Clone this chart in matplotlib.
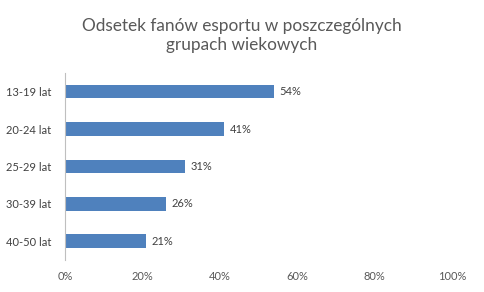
import matplotlib.pyplot as plt
import numpy as np

# data
groups = ["13-19 lat", "20-24 lat", "25-29 lat", "30-39 lat", "40-50 lat"]
shares = [54, 41, 31, 26, 21]
xticks = [0, 20, 40, 60, 80, 100]

plt.rcParams["font.family"] = ["Lato", "DejaVu Sans"]

fig = plt.figure(figsize=(4.84, 2.92), dpi=100)
ax = fig.add_axes([0.134, 0.110, 0.800, 0.640])

y = np.arange(len(groups))
ax.barh(y, shares, height=0.36, color="#4F81BD")
ax.set_ylim(len(groups) - 0.5, -0.5)
ax.set_xlim(0, 100)

# value labels to the right of the bars
for yi, v in zip(y, shares):
    ax.text(v + 1.5, yi, f"{v}%", va="center", ha="left", fontsize=8, color="#404040")

ax.set_yticks(y)
ax.set_yticklabels(groups, fontsize=8, color="#404040")
ax.set_xticks(xticks)
ax.set_xticklabels([f"{t}%" for t in xticks], fontsize=8, color="#595959")
ax.tick_params(axis="both", length=0, pad=8)
ax.tick_params(axis="y", pad=10)

for s in ["top", "right", "bottom"]:
    ax.spines[s].set_visible(False)
ax.spines["left"].set_color("#BFBFBF")
ax.spines["left"].set_linewidth(0.8)

fig.text(0.5, 0.878, "Odsetek fanów esportu w poszczególnych\ngrupach wiekowych",
         ha="center", va="center", fontsize=12.4, color="#595959", linespacing=1.25)

fig.savefig("out.png", dpi=100, facecolor="white")
